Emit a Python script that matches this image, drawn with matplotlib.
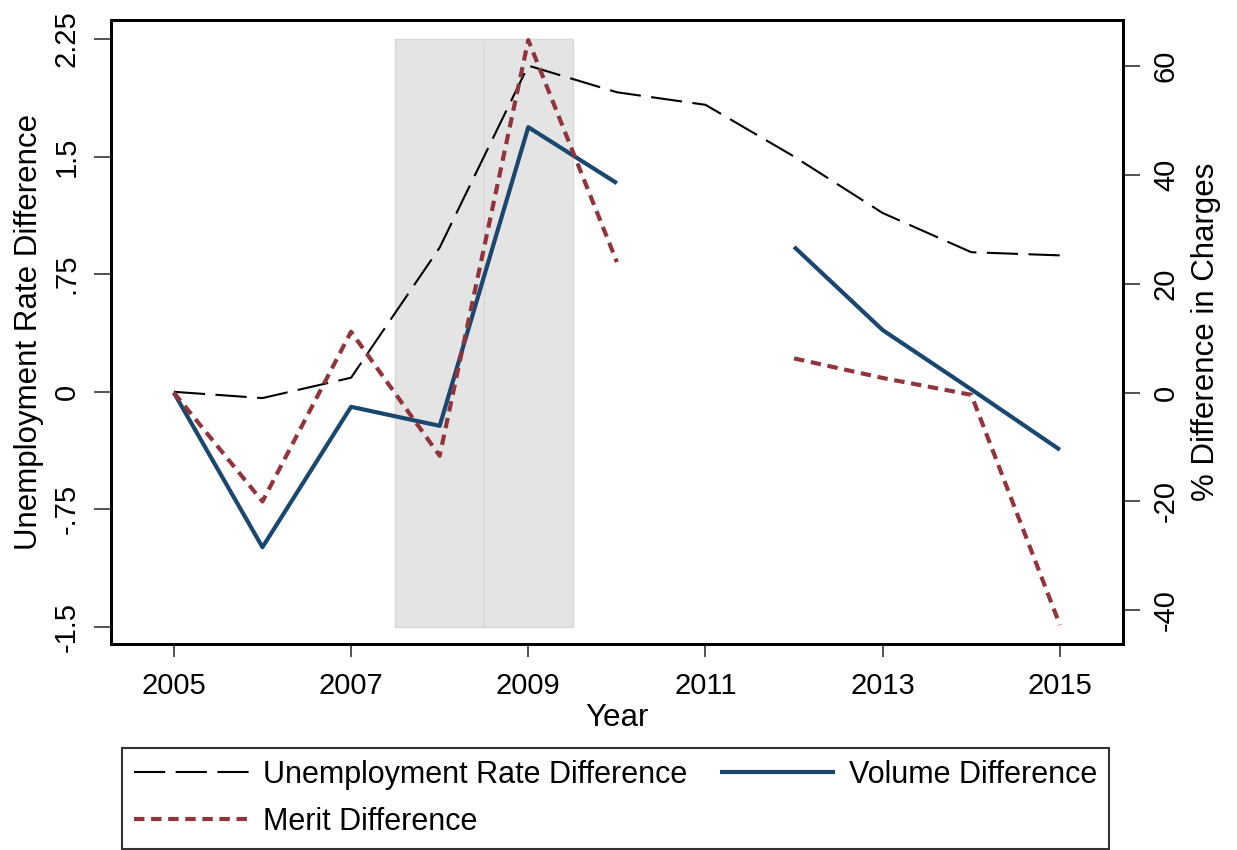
import numpy as np
import matplotlib
matplotlib.use('Agg')
import matplotlib.pyplot as plt

plt.rcParams['font.family'] = ['Liberation Sans', 'DejaVu Sans']

years = [2005, 2006, 2007, 2008, 2009, 2010, 2011, 2012, 2013, 2014, 2015]
# unemployment rate difference (left axis)
unemp = [0.0, -0.04, 0.09, 0.92, 2.08, 1.91, 1.83, 1.50, 1.14, 0.89, 0.87]
# % difference in charges (right axis); 2011 missing
volume = [0.0, -28.4, -2.6, -6.1, 48.8, 38.5, np.nan, 26.8, 11.5, 0.6, -10.5]
merit = [0.0, -20.0, 11.2, -11.6, 64.8, 24.0, np.nan, 6.3, 2.7, -0.4, -42.7]

recession_years = [2008, 2009]
left_ticks = [-1.5, -0.75, 0, 0.75, 1.5, 2.25]
left_labels = ['-1.5', '-.75', '0', '.75', '1.5', '2.25']
right_ticks = [-40, -20, 0, 20, 40, 60]
x_ticks = [2005, 2007, 2009, 2011, 2013, 2015]

navy = '#1a476f'
maroon = '#90353b'
tick_fs = 21
lab_fs = 22.5

fig = plt.figure(figsize=(12.37, 8.5), dpi=100)
ax = fig.add_axes([0.0897, 0.242, 0.818, 0.7345])
ax2 = ax.twinx()

# shaded recession band
ax.bar(recession_years, [3.75, 3.75], bottom=-1.5, width=1.0,
       color='#e4e4e4', edgecolor='#d8d8d8', linewidth=1.0, zorder=0)

l1, = ax.plot(years, unemp, color='black', lw=1.5, zorder=3,
              label='Unemployment Rate Difference')
l1.set_dashes((15, 5))
l2, = ax2.plot(years, volume, color=navy, lw=3.0, solid_capstyle='butt',
               label='Volume Difference')
l3, = ax2.plot(years, merit, color=maroon, lw=3.0, label='Merit Difference')
l3.set_dashes((2.5, 1.6))

ax.set_xlim(2004.29, 2015.71)
ax.set_ylim(-1.61, 2.371)
ax2.set_ylim(-46.25, 68.5)

ax.set_xticks(x_ticks)
ax.set_xticklabels([str(y) for y in x_ticks], fontsize=tick_fs)
ax.set_yticks(left_ticks)
ax.set_yticklabels(left_labels, fontsize=tick_fs, rotation=90, va='center')
ax2.set_yticks(right_ticks)
ax2.set_yticklabels([str(t) for t in right_ticks], fontsize=tick_fs, rotation=90, va='center')

ax.tick_params(axis='x', length=9, width=1.2, color='#333333', pad=11)
ax.tick_params(axis='y', length=12, width=1.2, color='#333333', pad=10)
ax2.tick_params(axis='y', length=12, width=1.2, color='#333333', pad=9)

for a in (ax, ax2):
    for s in a.spines.values():
        s.set_linewidth(2.0)
        s.set_color('black')

ax.set_xlabel('Year', fontsize=lab_fs, labelpad=2)
ax.set_ylabel('Unemployment Rate Difference', fontsize=lab_fs, labelpad=6)
ax2.set_ylabel('% Difference in Charges', fontsize=lab_fs, labelpad=8)

leg = fig.legend([l1, l3, l2], [h.get_label() for h in (l1, l3, l2)],
                 ncol=2, loc='lower left', bbox_to_anchor=(0.0986, 0.0012),
                 fontsize=22, frameon=True, fancybox=False,
                 handlelength=3.75, handletextpad=0.45, columnspacing=1.1,
                 borderpad=0.4, labelspacing=0.55, borderaxespad=0)
leg.get_frame().set_edgecolor('black')
leg.get_frame().set_linewidth(1.5)

fig.savefig('out.png', dpi=100)
